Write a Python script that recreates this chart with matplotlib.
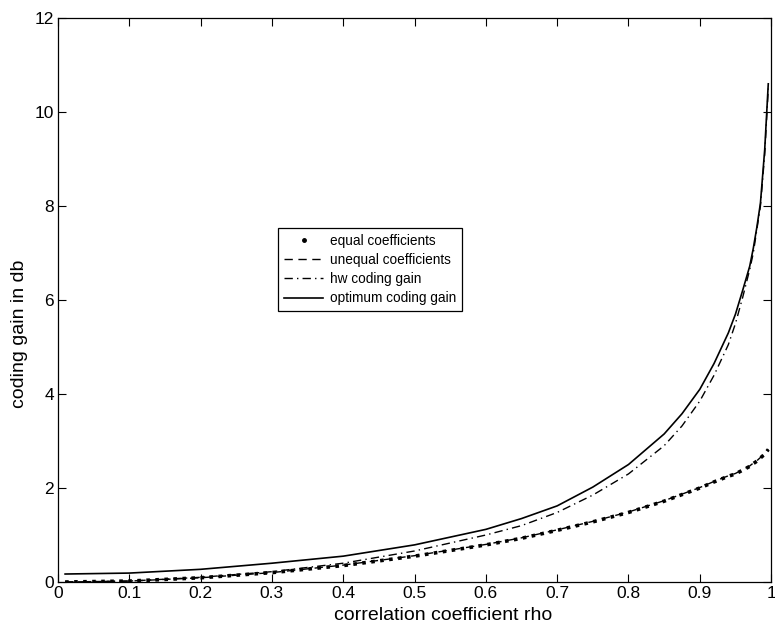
import numpy as np
import matplotlib.pyplot as plt
from matplotlib.lines import Line2D

plt.rcParams['font.family'] = ['Liberation Sans', 'DejaVu Sans']

# correlation coefficient rho
rho = [0.01, 0.1, 0.2, 0.3, 0.4, 0.5, 0.6, 0.65, 0.7, 0.75, 0.8, 0.85,
       0.875, 0.9, 0.92, 0.94, 0.95, 0.96, 0.97, 0.975, 0.98, 0.985,
       0.991, 0.996]

# coding gains in db
equal_gain = [0.0, 0.02, 0.09, 0.2, 0.35, 0.55, 0.79, 0.93, 1.1, 1.28,
              1.48, 1.72, 1.86, 2.0, 2.13, 2.25, 2.3, 2.38, 2.46, 2.52,
              2.57, 2.64, 2.72, 2.82]
unequal_gain = [0.0, 0.02, 0.09, 0.2, 0.36, 0.56, 0.8, 0.94, 1.11, 1.29,
                1.49, 1.73, 1.87, 2.01, 2.14, 2.26, 2.31, 2.39, 2.47, 2.53,
                2.58, 2.65, 2.73, 2.83]
hw_gain = [0.0, 0.02, 0.1, 0.22, 0.4, 0.66, 1.0, 1.2, 1.48, 1.85,
           2.3, 2.9, 3.32, 3.85, 4.4, 5.05, 5.5, 6.05, 6.65, 7.0,
           7.5, 8.0, 9.1, 10.5]
opt_gain = [0.17, 0.19, 0.27, 0.4, 0.55, 0.79, 1.12, 1.35, 1.62, 2.02,
            2.5, 3.15, 3.58, 4.1, 4.65, 5.3, 5.7, 6.2, 6.72, 7.1,
            7.55, 8.06, 9.2, 10.6]

fig = plt.figure(figsize=(7.75, 6.32), dpi=100)
ax = fig.add_axes([0.0748, 0.0791, 0.9202, 0.8924])

ax.plot(rho, equal_gain, color='black', linestyle=(0, (1, 1.5)), linewidth=2.6)
ax.plot(rho, unequal_gain, color='black', linestyle=(0, (6, 4)), linewidth=1.0)
ax.plot(rho, hw_gain, color='black', linestyle=(0, (6, 3, 1, 3)), linewidth=1.0)
ax.plot(rho, opt_gain, color='black', linestyle='-', linewidth=1.2)

ax.set_xlim(0, 1)
ax.set_ylim(0, 12)
ax.set_xticks(np.arange(0, 1.01, 0.1))
ax.set_xticklabels(['0', '0.1', '0.2', '0.3', '0.4', '0.5', '0.6', '0.7',
                    '0.8', '0.9', '1'])
ax.set_yticks(range(0, 13, 2))
ax.tick_params(direction='in', top=True, right=True, labelsize=12.5,
               length=6, width=0.8, pad=3)
for s in ax.spines.values():
    s.set_linewidth(0.9)

ax.set_xlabel('correlation coefficient rho', fontsize=14)
ax.set_ylabel('coding gain in db', fontsize=14)
ax.xaxis.set_label_coords(0.54, -0.045)
ax.yaxis.set_label_coords(-0.042, 0.44)

handles = [
    Line2D([], [], color='black', marker='.', markersize=5, linestyle='none'),
    Line2D([], [], color='black', linestyle=(0, (6, 4)), linewidth=1.0),
    Line2D([], [], color='black', linestyle=(0, (6, 3, 1, 3)), linewidth=1.0),
    Line2D([], [], color='black', linestyle='-', linewidth=1.2),
]
labels = ['equal coefficients', 'unequal coefficients', 'hw coding gain',
          'optimum coding gain']
leg = ax.legend(handles, labels, loc='upper left',
                bbox_to_anchor=(0.309, 0.627), fontsize=9.8, frameon=True,
                fancybox=False, edgecolor='black', framealpha=1,
                borderpad=0.4, labelspacing=0.38, handlelength=2.9,
                handletextpad=0.5, borderaxespad=0)
leg.get_frame().set_linewidth(0.9)

fig.savefig('out.png', dpi=100)
